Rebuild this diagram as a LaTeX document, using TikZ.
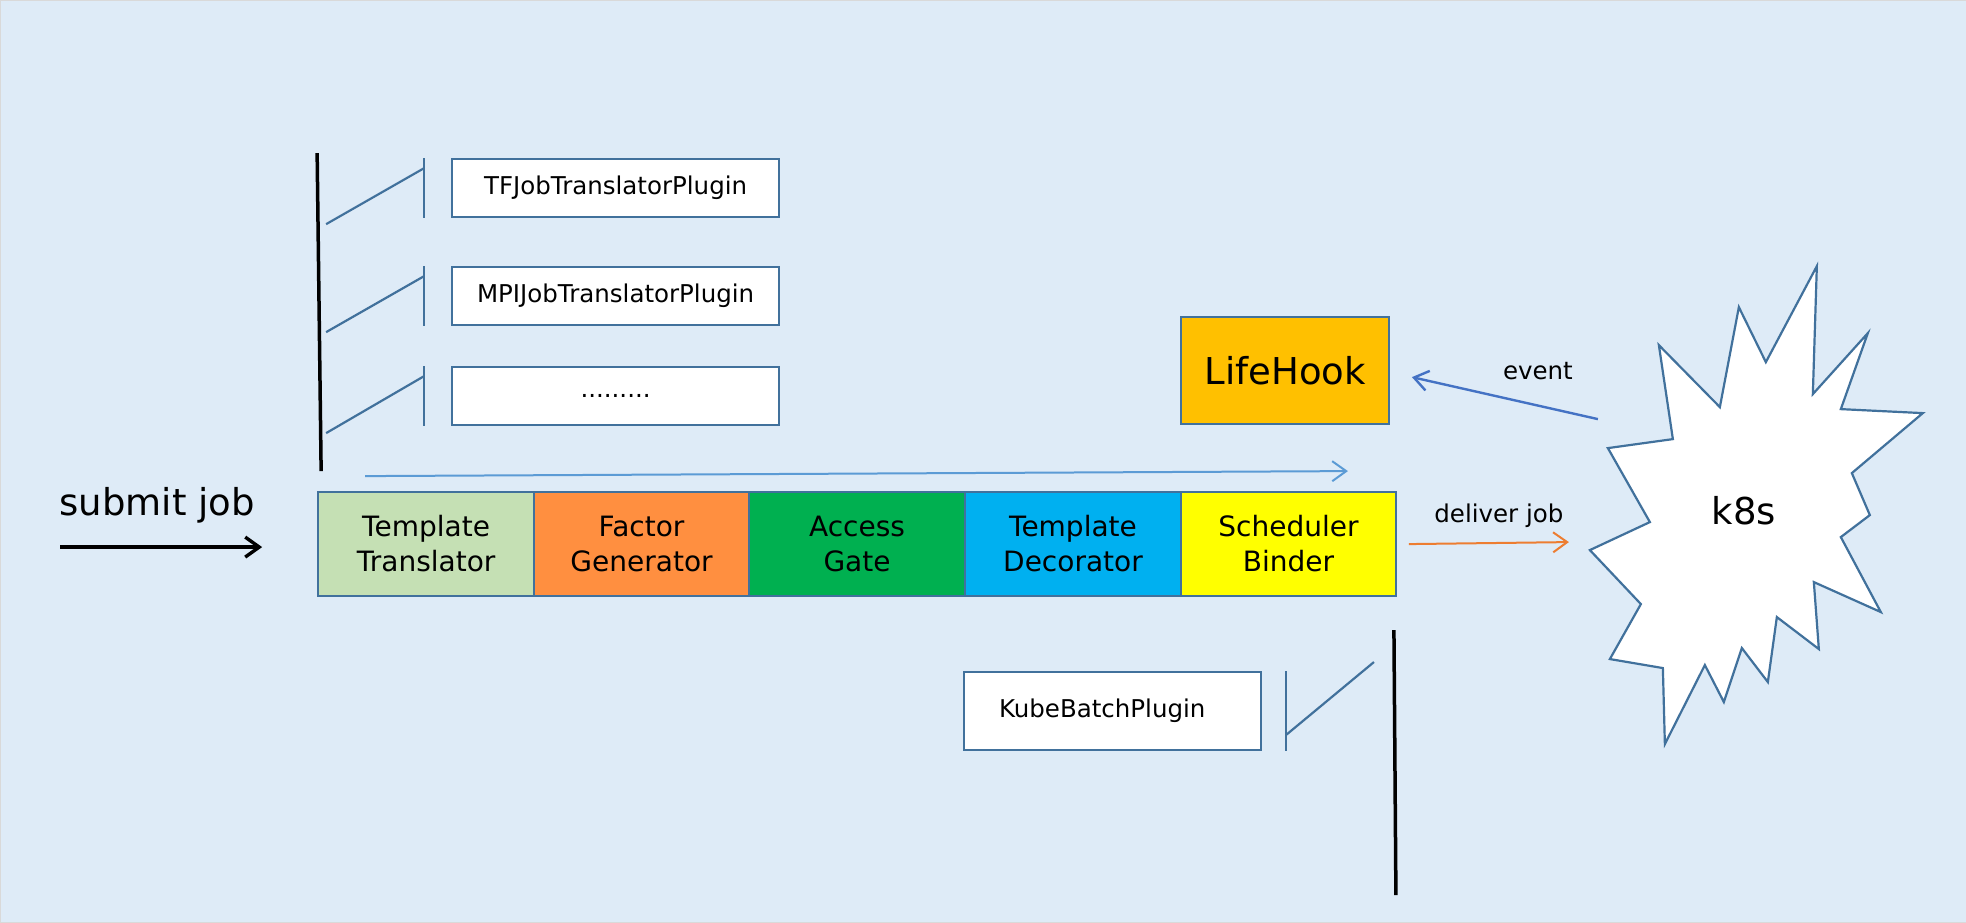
\documentclass[tikz,border=0pt]{standalone}
\usepackage{fontspec}
\setmainfont{DejaVu Sans}
\usetikzlibrary{arrows.meta,calc}
\def \submitJobStr {submit job}
\def \templateTranslatorStr {Template\\Translator}
\def \factorGeneratorStr {Factor\\Generator}
\def \accessGateStr {Access\\Gate}
\def \templateDecoratorStr {Template\\Decorator}
\def \schedulerBinderStr {Scheduler\\Binder}
\def \tfPluginStr {TFJobTranslatorPlugin}
\def \mpiPluginStr {MPIJobTranslatorPlugin}
\def \morePluginStr {.........}
\def \kubeBatchStr {KubeBatchPlugin}
\def \lifeHookStr {LifeHook}
\def \eventStr {event}
\def \deliverJobStr {deliver job}
\def \kubeStr {k8s}

\begin{document}
\begin{tikzpicture}[x=1pt,y=-1pt]


\definecolor{bgblue}{HTML}{DEEBF7}
\definecolor{edgeblue}{HTML}{41719C}
\definecolor{ttgreen}{HTML}{C5E0B4}
\definecolor{fgorange}{HTML}{FF8F40}
\definecolor{aggreen}{HTML}{00B050}
\definecolor{tdblue}{HTML}{00B0F0}
\definecolor{sbyellow}{HTML}{FFFF00}
\definecolor{lhorange}{HTML}{FFC000}
\definecolor{flowblue}{HTML}{5B9BD5}
\definecolor{eventblue}{HTML}{4472C4}
\definecolor{deliverorange}{HTML}{ED7D31}


\begin{scope}[
  bigtext/.style={font=\fontsize{37}{44}\selectfont},
  midtext/.style={font=\fontsize{28}{35}\selectfont},
  smalltext/.style={font=\fontsize{24.5}{30}\selectfont},
  stage/.style={midtext,draw=edgeblue,line width=2pt,minimum width=215.6pt,
    minimum height=104pt,inner sep=0pt,align=center},
  plugin/.style={smalltext,draw=edgeblue,fill=white,line width=2pt,
    minimum width=327pt,minimum height=58pt,inner sep=0pt},
  plug/.style={draw=edgeblue,line width=2.2pt},
  bar/.style={draw=black,line width=3.5pt},
  arr/.style={-{Straight Barb[length=14pt,width=20pt]},line width=2pt}]


\fill[bgblue,draw=gray!30] (0,0) rectangle (1966,922);
\useasboundingbox (0,0) rectangle (1966,922);


\node[stage,fill=ttgreen] (tt) at (426,543.5) {\templateTranslatorStr};
\node[stage,fill=fgorange] (fg) at (641.5,543.5) {\factorGeneratorStr};
\node[stage,fill=aggreen] (ag) at (857,543.5) {\accessGateStr};
\node[stage,fill=tdblue] (td) at (1073,543.5) {\templateDecoratorStr};
\node[stage,fill=sbyellow] (sb) at (1288.5,543.5) {\schedulerBinderStr};


\node[plugin] (tf) at (615.5,188) {\tfPluginStr};
\node[plugin] (mpi) at (615.5,296) {\mpiPluginStr};
\node[plugin] (more) at (615.5,396) {\morePluginStr};
\node[plugin,minimum width=297pt,minimum height=78pt,text width=227pt,
  inner xsep=35pt,align=left] (kb) at (1112.5,711) {\kubeBatchStr};

\node[bigtext,draw=edgeblue,fill=lhorange,line width=2pt,minimum width=208pt,
  minimum height=107pt] (lh) at (1285.5,370.5) {\lifeHookStr};


\coordinate (lbtop) at (317,153);
\coordinate (lbbot) at (321,471);
\draw[bar] (lbtop) -- (lbbot);
\foreach \p/\d in {tf/6,mpi/6,more/7} {
  \draw[plug] ($(\p.north west)+(-27,0)$) -- ($(\p.south west)+(-27,0)$);
  \draw[plug] ($(\p.south west)+(-125,\d)$) -- ($(\p.north west)+(-27,10)$);
}

\coordinate (rbtop) at (1394,630);
\coordinate (rbbot) at (1396,895);
\draw[bar] (rbtop) -- (rbbot);
\draw[plug] ($(kb.north east)+(24,0)$) -- ($(kb.south east)+(24,0)$);
\draw[plug] ($(kb.south east)+(24,-16)$) -- ($(kb.north east)+(112,-9)$);


\filldraw[fill=white,draw=edgeblue,line width=2.2pt]
  (1817,266) -- (1813,394) -- (1868,333) -- (1841,409) -- (1923,413)
  -- (1852,473) -- (1870,515) -- (1841,537) -- (1881,612) -- (1814,582)
  -- (1819,649) -- (1777,617) -- (1768,682) -- (1742,648) -- (1724,702)
  -- (1705,665) -- (1665,744) -- (1663,668) -- (1610,659) -- (1641,604)
  -- (1590,550) -- (1650,522) -- (1608,448) -- (1673,439) -- (1659,345)
  -- (1720,407) -- (1739,307) -- (1766,362) -- cycle;
\node[bigtext] (k8s) at (1744,511) {\kubeStr};


\node[bigtext] (sj) at (157,505) {\submitJobStr};
\coordinate (sj0) at (60,547);
\coordinate (sj1) at (262,547);
\draw[arr,black,line width=3.4pt] (sj0) -- (sj1);

\coordinate (flow0) at (365,476);
\coordinate (flow1) at (1348,471);
\draw[arr,flowblue] (flow0) -- (flow1);

\coordinate (dj0) at (1409,544);
\coordinate (dj1) at (1569,542);
\draw[arr,deliverorange] (dj0) -- (dj1);
\node[smalltext] (djl) at (1499,516) {\deliverJobStr};

\coordinate (ev0) at (1598,419);
\coordinate (ev1) at (1412,377);
\draw[arr,eventblue,line width=2.4pt] (ev0) -- (ev1);
\node[smalltext] (evl) at (1538,371) {\eventStr};


\end{scope}
\end{tikzpicture}
\end{document}
